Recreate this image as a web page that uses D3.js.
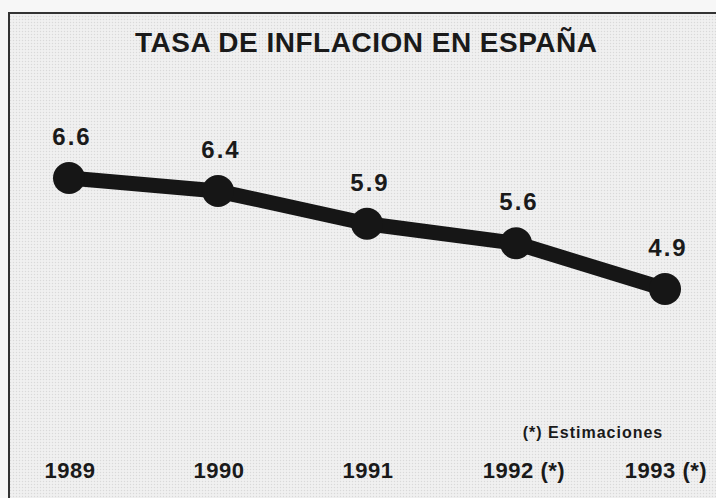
<!DOCTYPE html>
<html>
<head>
<meta charset="utf-8">
<script src="https://cdn.jsdelivr.net/npm/d3@7"></script>
<style>
  body { margin: 0; background: #f7f7f7; }
  text { font-family: "Liberation Sans", Arial, sans-serif; font-weight: bold; fill: #1a1a1a; }
</style>
</head>
<body>
<svg id="chart" width="716" height="498"></svg>
<script>
// data
const years = ['1989', '1990', '1991', '1992', '1993'];
const yearLabels = ['1989', '1990', '1991', '1992 (*)', '1993 (*)'];
const inflation = [6.6, 6.4, 5.9, 5.6, 4.9];
const valueLabels = ['6.6', '6.4', '5.9', '5.6', '4.9'];

const svg = d3.select('#chart');
const W = 716, H = 498;

// halftone-ish background
const defs = svg.append('defs');
const pat = defs.append('pattern')
  .attr('id', 'dots')
  .attr('width', 3).attr('height', 3)
  .attr('patternUnits', 'userSpaceOnUse');
pat.append('rect').attr('width', 3).attr('height', 3).attr('fill', '#f0f0f0');
pat.append('circle').attr('cx', 1.5).attr('cy', 1.5).attr('r', 0.7).attr('fill', '#d9d9d9');

svg.append('rect')
  .attr('x', 9).attr('y', 13)
  .attr('width', W).attr('height', H)
  .attr('fill', 'url(#dots)');

// frame (only top & left visible, the rest is cut off)
svg.append('path')
  .attr('d', `M9,${H} V13 H${W}`)
  .attr('fill', 'none')
  .attr('stroke', '#333')
  .attr('stroke-width', 2);

const x = d3.scalePoint()
  .domain(years)
  .range([69, 665]);

const y = d3.scaleLinear()
  .domain([4.9, 6.6])
  .range([289, 178]);

// title
svg.append('text')
  .attr('x', 366).attr('y', 52)
  .attr('text-anchor', 'middle')
  .attr('textLength', 462)
  .attr('lengthAdjust', 'spacing')
  .style('font-size', '28px')
  .text('TASA DE INFLACION EN ESPAÑA');

const data = years.map((yr, i) => ({ yr, v: inflation[i], lbl: valueLabels[i], xl: yearLabels[i] }));

const line = d3.line()
  .x(d => x(d.yr))
  .y(d => y(d.v));

svg.append('path')
  .datum(data)
  .attr('d', line)
  .attr('fill', 'none')
  .attr('stroke', '#161616')
  .attr('stroke-width', 15)
  .attr('stroke-linejoin', 'round');

svg.selectAll('circle.pt')
  .data(data)
  .join('circle')
  .attr('class', 'pt')
  .attr('cx', d => x(d.yr))
  .attr('cy', d => y(d.v))
  .attr('r', 16)
  .attr('fill', '#161616');

svg.selectAll('text.val')
  .data(data)
  .join('text')
  .attr('class', 'val')
  .attr('x', d => x(d.yr) + 3)
  .attr('y', d => y(d.v) - 33)
  .attr('text-anchor', 'middle')
  .style('font-size', '24px')
  .style('letter-spacing', '2px')
  .text(d => d.lbl);

svg.selectAll('text.yr')
  .data(data)
  .join('text')
  .attr('class', 'yr')
  .attr('x', (d, i) => x(d.yr) + (i === 3 ? 8 : 1))
  .attr('y', 478)
  .attr('text-anchor', 'middle')
  .style('font-size', '22px')
  .style('letter-spacing', '0.5px')
  .text(d => d.xl);

svg.append('text')
  .attr('x', 593).attr('y', 438)
  .attr('text-anchor', 'middle')
  .style('font-size', '16px')
  .style('letter-spacing', '1px')
  .text('(*) Estimaciones');
</script>
</body>
</html>
